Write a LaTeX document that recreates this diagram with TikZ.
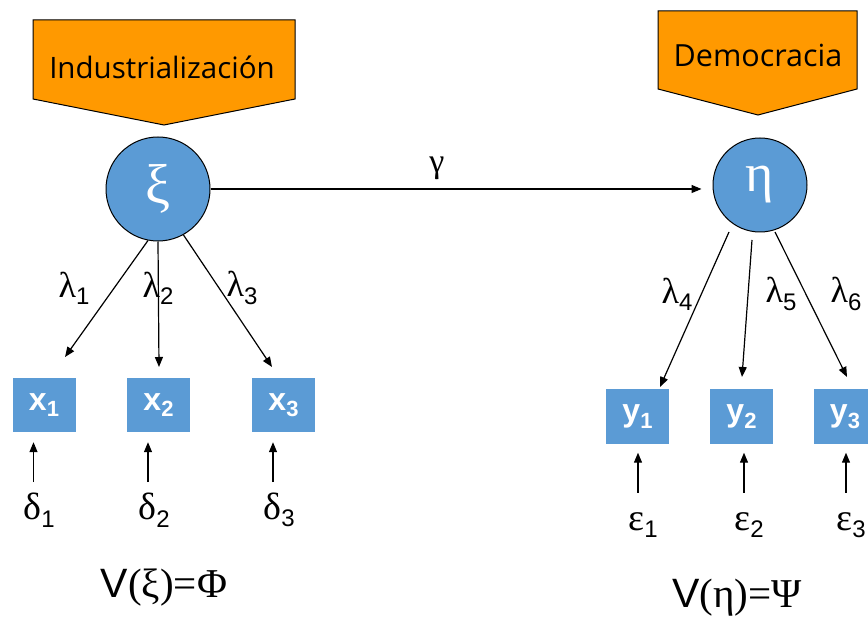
\documentclass[tikz,border=0pt]{standalone}
\usepackage{fontspec}
\setmainfont{Liberation Sans}
\newfontfamily\grk{Liberation Serif}
\newfontfamily\seg{Open Sans}
\usetikzlibrary{arrows.meta}
\definecolor{orng}{HTML}{FF9900}
\definecolor{blu}{HTML}{5B9BD5}
\begin{document}
\begin{tikzpicture}[x=1pt,y=-1pt,
  arr/.style={line width=1.2pt,-{Triangle[length=10pt,width=8pt]}},
  banner/.style={draw=black,fill=orng,line width=1pt},
  latent/.style={circle,draw=black,fill=blu,line width=1pt,inner sep=0pt,text=white,font=\grk\fontsize{56}{56}\selectfont},
  obs/.style={rectangle,fill=blu,minimum width=63pt,minimum height=54pt,inner sep=0pt,text=white,font=\bfseries\fontsize{32}{32}\selectfont},
  lam/.style={font=\grk\fontsize{36}{36}\selectfont},
  err/.style={font=\grk\fontsize{38}{38}\selectfont},
  eqn/.style={font=\fontsize{41}{41}\selectfont},
  title/.style={font=\seg\fontsize{29.5}{29.5}\selectfont,anchor=base}]
\useasboundingbox (0,0) rectangle (868,620);
\clip (0,0) rectangle (868,620);
% banners
\draw[banner] (33,20) -- (295,20) -- (295,99) -- (164,125) -- (33,99) -- cycle;
\node[title] (ind) at (162,79) {Industrialización};
\draw[banner] (658,11) -- (857,11) -- (857,89) -- (758,115) -- (658,89) -- cycle;
\node[title,font=\seg\fontsize{30.5}{30.5}\selectfont] (dem) at (758,67) {Democracia};
% latent variables
\node[latent,minimum size=104pt] (xi) at (158,189) {ξ};
\node[latent,minimum size=94pt,font=\grk\fontsize{54}{54}\selectfont] (eta) at (760,185) {η};
\draw[arr,shorten >=11pt] (xi.east) -- (xi.east -| eta.west);
\node[font=\grk\fontsize{34}{34}\selectfont] (g) at (437,168) {γ};
% observed x
\node[obs] (x1) at (44,405) {x\raisebox{-0.2em}{\fontsize{22}{22}\selectfont 1}};
\node[obs] (x2) at (158.5,405) {x\raisebox{-0.2em}{\fontsize{22}{22}\selectfont 2}};
\node[obs] (x3) at (283.5,405) {x\raisebox{-0.2em}{\fontsize{22}{22}\selectfont 3}};
% observed y
\node[obs] (y1) at (637.5,416.5) {y\raisebox{-0.2em}{\fontsize{22}{22}\selectfont 1}};
\node[obs] (y2) at (741.5,416.5) {y\raisebox{-0.2em}{\fontsize{22}{22}\selectfont 2}};
\node[obs] (y3) at (845,416.5) {y\raisebox{-0.2em}{\fontsize{22}{22}\selectfont 3}};
% loadings xi
\coordinate (t1) at (65,357);
\coordinate (t2) at (159,367);
\coordinate (t3) at (272,367);
\draw[arr] (xi.-101) -- (t1);
\draw[arr] (xi.-90) -- (t2);
\draw[arr] (xi.-61) -- (t3);
\node[lam] (l1) at (74,288) {λ\raisebox{-0.2em}{\rmfamily\fontsize{24}{24}\selectfont 1}};
\node[lam] (l2) at (158,288) {λ\raisebox{-0.2em}{\rmfamily\fontsize{24}{24}\selectfont 2}};
\node[lam] (l3) at (242,288) {λ\raisebox{-0.2em}{\rmfamily\fontsize{24}{24}\selectfont 3}};
% loadings eta
\coordinate (s4) at (729,232);
\coordinate (s5) at (752,240);
\coordinate (s6) at (775,232);
\coordinate (t4) at (660,387);
\coordinate (t5) at (742,377);
\coordinate (t6) at (847,377);
\draw[arr] (s4) -- (t4);
\draw[arr] (s5) -- (t5);
\draw[arr] (s6) -- (t6);
\node[lam] (l4) at (677,294) {λ\raisebox{-0.2em}{\rmfamily\fontsize{24}{24}\selectfont 4}};
\node[lam] (l5) at (781,294) {λ\raisebox{-0.2em}{\rmfamily\fontsize{24}{24}\selectfont 5}};
\node[lam] (l6) at (846,294) {λ\raisebox{-0.2em}{\rmfamily\fontsize{24}{24}\selectfont 6}};
% errors x
\node[err] (d1) at (39,510) {δ\raisebox{-0.2em}{\rmfamily\fontsize{24}{24}\selectfont 1}};
\node[err] (d2) at (154,510) {δ\raisebox{-0.2em}{\rmfamily\fontsize{24}{24}\selectfont 2}};
\node[err] (d3) at (279,510) {δ\raisebox{-0.2em}{\rmfamily\fontsize{24}{24}\selectfont 3}};
\draw[arr] ([xshift=-10.5pt,yshift=-50pt]x1.south) -- ([xshift=-10.5pt,yshift=-10pt]x1.south);
\draw[arr] ([xshift=-10.5pt,yshift=-50pt]x2.south) -- ([xshift=-10.5pt,yshift=-10pt]x2.south);
\draw[arr] ([xshift=-10.5pt,yshift=-50pt]x3.south) -- ([xshift=-10.5pt,yshift=-10pt]x3.south);
% errors y
\node[err] (e1) at (643,525) {ε\raisebox{-0.2em}{\rmfamily\fontsize{24}{24}\selectfont 1}};
\node[err] (e2) at (749,525) {ε\raisebox{-0.2em}{\rmfamily\fontsize{24}{24}\selectfont 2}};
\node[err] (e3) at (851,525) {ε\raisebox{-0.2em}{\rmfamily\fontsize{24}{24}\selectfont 3}};
\draw[arr] ([xshift=0.5pt,yshift=-49pt]y1.south) -- ([xshift=0.5pt,yshift=-9pt]y1.south);
\draw[arr] ([xshift=2.5pt,yshift=-49pt]y2.south) -- ([xshift=2.5pt,yshift=-9pt]y2.south);
\draw[arr] ([xshift=1pt,yshift=-49pt]y3.south) -- ([xshift=1pt,yshift=-9pt]y3.south);
% variances
\node[eqn] (vphi) at (164,588) {V{\grk(ξ)=Φ}};
\node[eqn] (vpsi) at (737,598) {V{\grk(η)=Ψ}};
\end{tikzpicture}
\end{document}
